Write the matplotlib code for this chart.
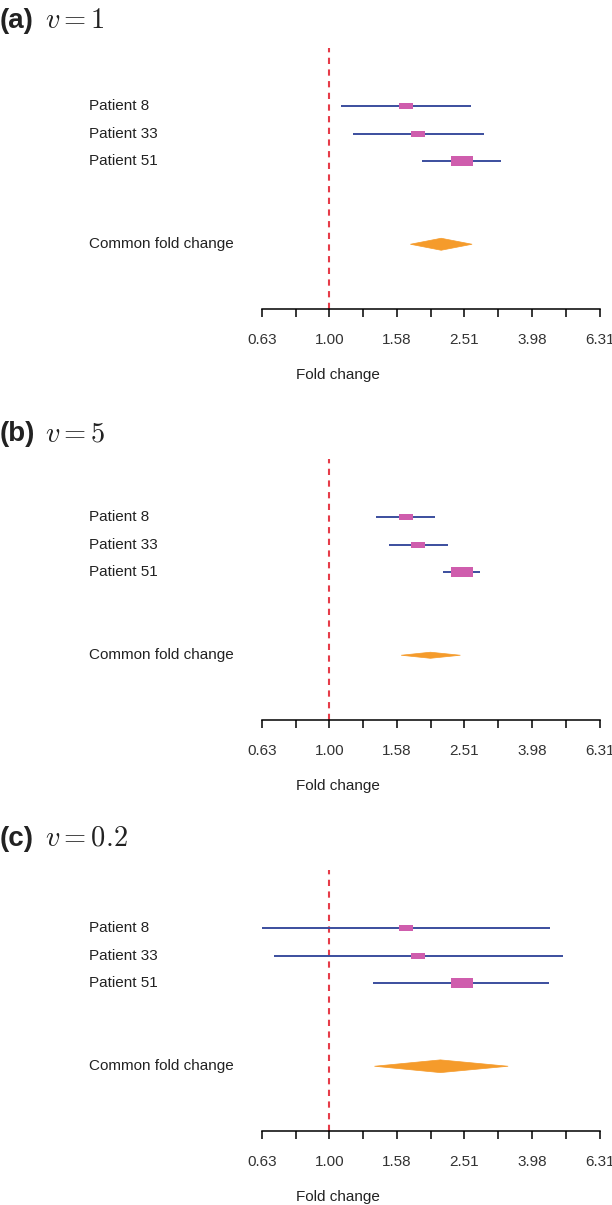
import numpy as np
import matplotlib
matplotlib.use("Agg")
import matplotlib.pyplot as plt
from matplotlib.path import Path
from matplotlib.patches import Polygon
from matplotlib.transforms import blended_transform_factory

plt.rcParams['font.family'] = ['Liberation Sans', 'DejaVu Sans']
plt.rcParams['mathtext.fontset'] = 'cm'

# ---------------- data ----------------
patients = ["Patient 8", "Patient 33", "Patient 51"]
summary_label = "Common fold change"
panel_letters = ["(a)", "(b)", "(c)"]
panel_v = ["1", "5", "0.2"]

# panel (a) v = 1
est_a = [1.684, 1.834, 2.463]
lo_a = [1.083, 1.175, 1.881]
hi_a = [2.626, 2.861, 3.228]
sum_a = [1.736, 2.141, 2.644]      # lo, est, hi

# panel (b) v = 5
est_b = [1.684, 1.834, 2.463]
lo_b = [1.377, 1.497, 2.175]
hi_b = [2.059, 2.245, 2.792]
sum_b = [1.630, 1.990, 2.441]

# panel (c) v = 0.2
est_c = [1.684, 1.834, 2.463]
lo_c = [0.629, 0.683, 1.350]
hi_c = [4.507, 4.923, 4.477]
sum_c = [1.359, 2.130, 3.380]

tick_values = [0.63, 1.00, 1.58, 2.51, 3.98, 6.31]
tick_labels = ["0.63", "1.00", "1.58", "2.51", "3.98", "6.31"]
xlabel = "Fold change"

# ---------------- style ----------------
W, H = 612, 1205
DPI = 100
BLUE = "#3B4E9E"
PINK = "#CF5DAD"
ORANGE = "#F59B2B"
RED = "#E63C49"
TXT = "#222222"

box_w_px = [14.4, 14.6, 22.7]
box_ratio = 2.45
diamond_half = [0.217, 0.11, 0.23]  # in row units

fig = plt.figure(figsize=(W / DPI, H / DPI), dpi=DPI)

def fy(py):
    return 1 - py / H

def fx(px):
    return px / W

rect_path = Path([(-box_ratio, -1), (box_ratio, -1), (box_ratio, 1),
                  (-box_ratio, 1), (-box_ratio, -1)],
                 [Path.MOVETO, Path.LINETO, Path.LINETO, Path.LINETO, Path.CLOSEPOLY])

panels = [(est_a, lo_a, hi_a, sum_a), (est_b, lo_b, hi_b, sum_b), (est_c, lo_c, hi_c, sum_c)]
offsets = [0, 411, 822]
title_y = [21, 434, 839]

x_left, x_right = 261.7, 599.7
top_px, axis_px = 47.8, 309.3
rows = [1, 2, 3]
sum_row = 6
pitch = 27.65
y_top = 1 - (106 - top_px) / pitch
y_bot = y_top + (axis_px - top_px) / pitch

for k, (est, lo, hi, sm) in enumerate(panels):
    off = offsets[k]
    ax = fig.add_axes([fx(x_left), fy(axis_px + off), fx(x_right - x_left),
                       (axis_px - top_px) / H])
    ax.set_xscale('log')
    ax.set_xlim(10 ** -0.2, 10 ** 0.8)
    ax.set_ylim(y_bot, y_top)
    for s in ['top', 'left', 'right']:
        ax.spines[s].set_visible(False)
    ax.spines['bottom'].set_linewidth(1.1)
    ax.set_yticks([])
    ax.set_xticks(tick_values)
    ax.set_xticklabels(tick_labels)
    ax.set_xticks([10 ** v for v in (-0.1, 0.1, 0.3, 0.5, 0.7)], minor=True)
    ax.xaxis.set_minor_formatter(matplotlib.ticker.NullFormatter())
    ax.tick_params(axis='x', which='both', length=5.5, width=1.1, direction='out',
                   labelsize=11, labelcolor="#333333", pad=11.5)
    ax.patch.set_alpha(0)

    ax.axvline(1.0, color=RED, lw=1.5, dashes=(3.0, 2.6), zorder=1)

    for i in range(len(est)):
        ax.plot([lo[i], hi[i]], [rows[i], rows[i]], color=BLUE, lw=1.4,
                solid_capstyle='butt', zorder=2)
        ax.plot([est[i]], [rows[i]], marker=rect_path, markersize=box_w_px[i] * 0.72,
                color=PINK, markeredgewidth=0, linestyle='none', zorder=3)

    h = diamond_half[k]
    ax.add_patch(Polygon([(sm[0], sum_row), (sm[1], sum_row - h), (sm[2], sum_row),
                          (sm[1], sum_row + h)], closed=True, facecolor=ORANGE,
                         edgecolor=ORANGE, lw=0.5, zorder=3))

    tr = blended_transform_factory(fig.transFigure, ax.transData)
    for i, name in enumerate(patients):
        ax.text(fx(88.7), rows[i], name, transform=tr, ha='left', va='center',
                fontsize=11, color=TXT)
    ax.text(fx(88.7), sum_row, summary_label, transform=tr, ha='left', va='center',
            fontsize=11, color=TXT)

    fig.text(fx(296), fy(375 + off), xlabel, ha='left', va='center', fontsize=11,
             color=TXT)

    fig.text(fx(0), fy(title_y[k]), panel_letters[k], ha='left', va='center',
             fontsize=20, fontweight='bold', color=TXT)
    fig.text(fx(45), fy(title_y[k]), r"$v = %s$" % panel_v[k], ha='left', va='center',
             fontsize=20.5, color=TXT)

fig.savefig("out.png", dpi=DPI)
